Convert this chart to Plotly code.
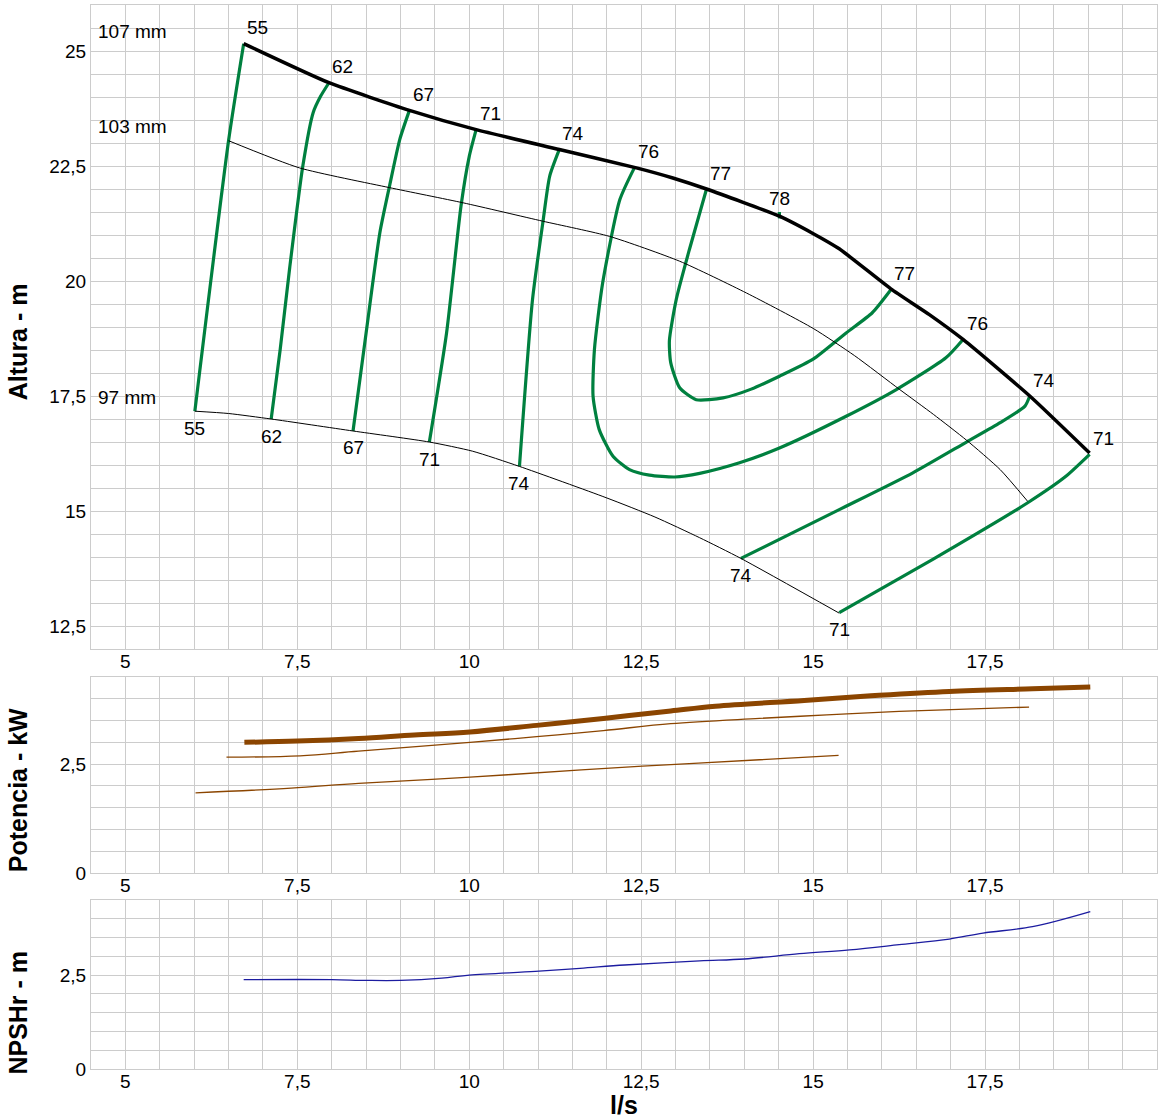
import plotly.graph_objects as go
from plotly.subplots import make_subplots

# ---- head curves (l/s vs m) per impeller diameter ----
h107_x = [6.72, 7.96, 9.13, 10.10, 11.31, 12.43, 12.96, 13.45, 14.51, 14.99, 15.38, 16.13, 16.69, 17.18, 18.15, 19.02]
h107_y = [25.16, 24.31, 23.71, 23.29, 22.86, 22.46, 22.24, 22.00, 21.41, 21.04, 20.70, 19.83, 19.27, 18.73, 17.50, 16.26]

h103_x = [6.50, 7.53, 8.84, 9.91, 11.07, 12.04, 13.06, 14.03, 15.00, 15.60, 16.26, 16.75, 17.23, 17.72, 18.12]
h103_y = [23.05, 22.46, 22.03, 21.70, 21.30, 20.97, 20.43, 19.74, 18.97, 18.38, 17.64, 17.10, 16.54, 15.90, 15.21]

h97_x = [6.01, 6.50, 7.12, 8.31, 9.42, 10.05, 10.73, 11.99, 12.70, 13.35, 13.95, 15.38]
h97_y = [17.17, 17.12, 17.00, 16.74, 16.50, 16.30, 15.97, 15.29, 14.87, 14.42, 13.97, 12.78]

# ---- iso-efficiency curves (%) ----
e55_x = [6.01, 6.50, 6.72]
e55_y = [17.17, 23.05, 25.16]
e62_x = [7.12, 7.25, 7.39, 7.58, 7.73, 7.84, 7.96]
e62_y = [17.00, 18.50, 20.30, 22.50, 23.66, 24.02, 24.31]
e67_x = [8.31, 8.50, 8.70, 8.84, 8.99, 9.13]
e67_y = [16.74, 18.87, 21.05, 22.06, 23.08, 23.71]
e71_x = [9.42, 9.67, 9.88, 10.00, 10.10]
e71_y = [16.50, 18.87, 21.63, 22.71, 23.29]
e74_x = [10.73, 10.92, 11.07, 11.17, 11.31]
e74_y = [15.97, 19.60, 21.27, 22.28, 22.86]
e76_x = [12.40, 12.19, 11.94, 11.82, 11.80, 11.89, 12.09, 12.33, 12.62, 12.99, 13.35, 13.93, 14.51, 15.48, 16.21, 16.93, 17.18]
e76_y = [22.46, 21.77, 19.96, 18.51, 17.50, 16.77, 16.19, 15.90, 15.78, 15.74, 15.82, 16.05, 16.37, 17.06, 17.64, 18.33, 18.73]
e77_x = [13.45, 13.20, 13.01, 12.91, 12.93, 13.06, 13.30, 13.69, 14.10, 14.51, 15.00, 15.48, 15.86, 16.13]
e77_y = [22.00, 20.68, 19.60, 18.70, 18.22, 17.68, 17.42, 17.46, 17.65, 17.93, 18.30, 18.87, 19.31, 19.81]
e78_x = [14.51, 14.51]
e78_y = [21.36, 21.50]
e74r_x = [13.95, 15.38, 16.45, 17.23, 17.72, 18.08, 18.15]
e74r_y = [13.97, 15.03, 15.83, 16.50, 16.92, 17.28, 17.50]
e71r_x = [15.38, 16.74, 18.12, 18.68, 19.02]
e71r_y = [12.79, 13.95, 15.18, 15.76, 16.23]

# ---- power (kW) ----
p107_x = [6.73, 7.50, 8.39, 9.20, 10.01, 10.98, 11.95, 12.93, 13.58, 14.87, 15.96, 16.98, 18.19, 19.03]
p107_y = [3.00, 3.03, 3.09, 3.17, 3.24, 3.39, 3.55, 3.72, 3.83, 3.96, 4.08, 4.17, 4.23, 4.27]
p103_x = [6.47, 7.54, 8.39, 10.01, 10.98, 11.95, 12.93, 14.22, 15.20, 16.25, 18.14]
p103_y = [2.66, 2.69, 2.80, 3.00, 3.13, 3.27, 3.43, 3.55, 3.63, 3.71, 3.81]
p97_x = [6.02, 7.41, 8.39, 10.01, 11.63, 12.93, 14.22, 15.37]
p97_y = [1.84, 1.95, 2.06, 2.20, 2.37, 2.49, 2.60, 2.70]

# ---- NPSHr (m) ----
npsh_x = [6.72, 8.00, 8.50, 9.00, 9.60, 10.00, 10.96, 11.61, 12.26, 13.35, 14.00, 14.80, 15.53, 16.25, 16.98, 17.47, 18.19, 19.03]
npsh_y = [2.38, 2.38, 2.36, 2.36, 2.42, 2.50, 2.60, 2.68, 2.77, 2.88, 2.93, 3.07, 3.17, 3.31, 3.46, 3.62, 3.79, 4.19]

x_ticks = [5, 7.5, 10, 12.5, 15, 17.5]
h_ticks = [12.5, 15, 17.5, 20, 22.5, 25]
low_ticks = [0, 2.5]

GREEN = '#00803f'
BROWN = '#8b4500'
GRID = '#cccccc'
FONT = 'Liberation Sans, Arial, sans-serif'

fig = make_subplots(rows=3, cols=1)

# efficiency curves (drawn first, head curves on top)
iso = [(e55_x, e55_y), (e62_x, e62_y), (e67_x, e67_y), (e71_x, e71_y), (e74_x, e74_y),
       (e76_x, e76_y), (e77_x, e77_y), (e78_x, e78_y), (e74r_x, e74r_y), (e71r_x, e71r_y)]
for ex, ey in iso:
    fig.add_trace(go.Scatter(x=ex, y=ey, mode='lines', hoverinfo='skip',
                             line=dict(color=GREEN, width=3.2, shape='spline', smoothing=0.6)), row=1, col=1)

fig.add_trace(go.Scatter(x=h97_x, y=h97_y, mode='lines', line=dict(color='black', width=1, shape='spline', smoothing=0.6)), row=1, col=1)
fig.add_trace(go.Scatter(x=h103_x, y=h103_y, mode='lines', line=dict(color='black', width=1, shape='spline', smoothing=0.6)), row=1, col=1)
fig.add_trace(go.Scatter(x=h107_x, y=h107_y, mode='lines', line=dict(color='black', width=3.5, shape='spline', smoothing=0.5)), row=1, col=1)

# power
fig.add_trace(go.Scatter(x=p97_x, y=p97_y, mode='lines', line=dict(color=BROWN, width=1.3, shape='spline')), row=2, col=1)
fig.add_trace(go.Scatter(x=p103_x, y=p103_y, mode='lines', line=dict(color=BROWN, width=1.3, shape='spline')), row=2, col=1)
fig.add_trace(go.Scatter(x=p107_x, y=p107_y, mode='lines', line=dict(color=BROWN, width=5, shape='spline')), row=2, col=1)

# npsh
fig.add_trace(go.Scatter(x=npsh_x, y=npsh_y, mode='lines', line=dict(color='#1c1ca0', width=1.3, shape='spline')), row=3, col=1)

# efficiency labels: above-right of the end that touches the 107 mm curve
lab_font = dict(family=FONT, size=19, color='black')
top_labels = [('55', e55_x[-1], e55_y[-1]), ('62', e62_x[-1], e62_y[-1]), ('67', e67_x[-1], e67_y[-1]),
              ('71', e71_x[-1], e71_y[-1]), ('74', e74_x[-1], e74_y[-1]), ('76', e76_x[0], e76_y[0]),
              ('77', e77_x[0], e77_y[0]), ('77', e77_x[-1], e77_y[-1]), ('76', e76_x[-1], e76_y[-1]),
              ('74', e74r_x[-1], e74r_y[-1]), ('71', e71r_x[-1], e71r_y[-1])]
for txt, lx, ly in top_labels:
    fig.add_annotation(x=lx, y=ly, text=txt, showarrow=False, xshift=14, yshift=16,
                       font=lab_font, xref='x', yref='y')
fig.add_annotation(x=e78_x[-1], y=e78_y[-1], text='78', showarrow=False, yshift=14,
                   font=lab_font, xref='x', yref='y')

# efficiency labels below the end on the 97 mm curve
bottom_labels = [('55', e55_x, e55_y), ('62', e62_x, e62_y), ('67', e67_x, e67_y), ('71', e71_x, e71_y),
                 ('74', e74_x, e74_y), ('74', e74r_x, e74r_y), ('71', e71r_x, e71r_y)]
for txt, ex, ey in bottom_labels:
    fig.add_annotation(x=ex[0], y=ey[0], text=txt, showarrow=False, yshift=-17,
                       font=lab_font, xref='x', yref='y')

# diameter labels
for txt, yv in [('107 mm', 25.43), ('103 mm', 23.35), ('97 mm', 17.46)]:
    fig.add_annotation(x=4.57, y=yv, text=txt, showarrow=False, xanchor='left', yanchor='middle',
                       font=lab_font, xref='x', yref='y')

# axis titles
title_font = dict(family=FONT, size=25, color='black', weight='bold')
for txt, yp in [('Altura - m', 0.684), ('Potencia - kW', 0.262), ('NPSHr - m', 0.053)]:
    fig.add_annotation(x=-0.0685, y=yp, xref='paper', yref='paper', text=txt, textangle=-90,
                       xanchor='center', yanchor='middle', showarrow=False, font=title_font)
fig.add_annotation(x=0.5, y=-0.034, xref='paper', yref='paper', text='l/s', showarrow=False,
                   xanchor='center', yanchor='middle', font=title_font)


def fmt(vals):
    return [f'{v:g}'.replace('.', ',') for v in vals]


tick_font = dict(family=FONT, size=19, color='black')
xax = dict(range=[4.5, 20], tickmode='array', tickvals=x_ticks, ticktext=fmt(x_ticks),
           showgrid=True, gridcolor=GRID, gridwidth=1, zeroline=False, showline=True, linecolor=GRID,
           mirror=True, ticks='', tickfont=tick_font, automargin=False, ticklabelstandoff=-5,
           minor=dict(dtick=0.5, tick0=0, showgrid=True, gridcolor=GRID, gridwidth=1))
yax = dict(tickmode='array', showgrid=True, gridcolor=GRID, gridwidth=1,
           zeroline=False, showline=True, linecolor=GRID, mirror=True, ticks='', tickfont=tick_font,
           automargin=False, minor=dict(dtick=0.5, tick0=0, showgrid=True, gridcolor=GRID, gridwidth=1))

fig.update_layout(
    xaxis=dict(xax, domain=[0, 1]),
    xaxis2=dict(xax, domain=[0, 1]),
    xaxis3=dict(xax, domain=[0, 1]),
    yaxis=dict(yax, range=[12, 26], domain=[0.3947, 1.0], tickvals=h_ticks, ticktext=fmt(h_ticks)),
    yaxis2=dict(yax, range=[0, 4.5], domain=[0.1842, 0.3684], tickvals=low_ticks, ticktext=fmt(low_ticks)),
    yaxis3=dict(yax, range=[0, 4.5], domain=[0.0, 0.1588], tickvals=low_ticks, ticktext=fmt(low_ticks)),
    width=1160, height=1118,
    margin=dict(l=91, r=3, t=5, b=49),
    plot_bgcolor='white', paper_bgcolor='white',
    showlegend=False,
    font=dict(family=FONT, size=19, color='black'),
)

# drop the page's default body margin so the figure sits at the window corner
fig.write_html("out.html", config={'displayModeBar': False},
               post_script="document.body.style.margin='0';")
